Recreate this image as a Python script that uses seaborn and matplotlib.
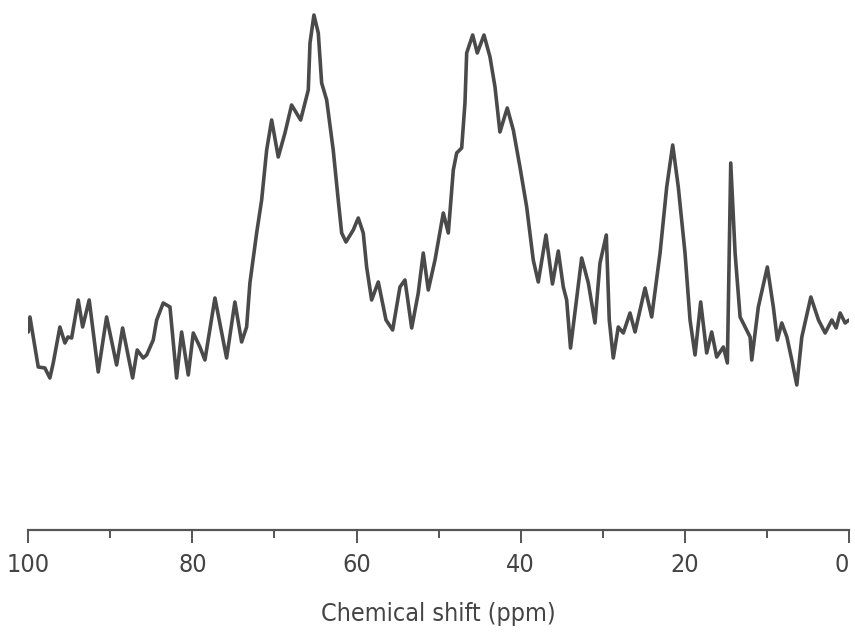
import numpy as np
import pandas as pd
import seaborn as sns
import matplotlib.pyplot as plt
from matplotlib.ticker import MultipleLocator
from matplotlib import font_manager

# Spectrum (ppm, intensity in arbitrary units)
ppm = [100.0, 99.79, 99.18, 98.78, 97.97, 97.36, 96.95, 96.14, 95.53, 95.16,
       94.71, 93.91, 93.37, 92.57, 91.47, 90.45, 89.23, 88.50, 87.28, 86.72,
       85.99, 85.57, 84.77, 84.35, 83.55, 82.73, 81.92, 81.31, 80.50, 79.89,
       79.08, 78.47, 77.25, 75.83, 74.82, 74.00, 73.39, 72.99, 72.17, 71.56,
       70.95, 70.34, 69.54, 68.72, 67.91, 66.81, 65.88, 65.67, 65.19, 64.66,
       64.25, 63.64, 62.84, 62.23, 61.81, 61.29, 60.40, 59.79, 59.18, 58.77,
       58.16, 57.35, 56.41, 55.60, 54.71, 54.10, 53.28, 52.48, 51.87, 51.26,
       50.44, 49.43, 48.82, 48.21, 47.80, 47.19, 46.79, 46.58, 45.85, 45.29,
       44.47, 43.74, 43.13, 42.53, 41.64, 40.90, 40.09, 39.27, 38.47, 37.86,
       36.92, 36.13, 35.42, 34.81, 34.40, 33.93, 32.57, 31.76, 30.95, 30.34,
       29.57, 29.21, 28.72, 28.11, 27.50, 26.68, 26.07, 24.85, 24.04, 23.02,
       22.21, 21.48, 20.80, 19.98, 19.37, 18.76, 18.07, 17.34, 16.73, 16.12,
       15.31, 14.82, 14.41, 13.88, 13.27, 12.05, 11.85, 11.05, 9.95, 9.22,
       8.73, 8.19, 7.57, 6.97, 6.36, 5.75, 4.65, 3.72, 2.91, 2.09,
       1.57, 1.08, 0.47, 0.0]
intensity = [198, 213, 183, 163, 162, 152, 167, 203, 187, 193,
             192, 230, 203, 230, 158, 213, 165, 202, 152, 180,
             172, 175, 190, 210, 227, 223, 152, 198, 155, 197,
             183, 170, 232, 172, 228, 188, 203, 247, 297, 330,
             380, 410, 373, 397, 425, 410, 440, 487, 515, 497,
             447, 430, 380, 330, 297, 288, 300, 312, 297, 263,
             230, 248, 210, 200, 243, 250, 202, 237, 277, 240,
             270, 317, 297, 360, 377, 382, 427, 477, 495, 477,
             495, 473, 443, 398, 422, 400, 363, 323, 270, 248,
             295, 246, 279, 243, 230, 182, 272, 247, 207, 267,
             295, 210, 172, 203, 197, 217, 198, 242, 213, 277,
             343, 385, 343, 277, 210, 175, 228, 177, 198, 173,
             183, 167, 367, 277, 213, 193, 170, 223, 263, 223,
             190, 207, 193, 170, 145, 193, 233, 210, 197, 210,
             202, 217, 207, 210]

major_ticks = [100, 80, 60, 40, 20, 0]

df = pd.DataFrame({"ppm": ppm, "intensity": intensity})

sns.set_style("white")
plt.rcParams["font.family"] = ["DejaVu Sans"]
plt.rcParams["font.stretch"] = "condensed"

fig = plt.figure(figsize=(8.55, 6.37), dpi=100)
ax = fig.add_axes([0.033, 0.168, 0.960, 0.832])

sns.lineplot(data=df, x="ppm", y="intensity", ax=ax, color="#4a4a4a",
             linewidth=2.6, estimator=None)

ax.set_xlim(100, 0)
ax.set_ylim(0, 530)
ax.set_xticks(major_ticks)
ax.set_xticklabels([str(t) for t in major_ticks], fontsize=18, color="#444444",
                   fontstretch="condensed")
ax.xaxis.set_minor_locator(MultipleLocator(10))
ax.tick_params(axis="x", which="major", direction="out", length=9.5, width=1.4,
               color="#555555", pad=7, bottom=True)
ax.tick_params(axis="x", which="minor", direction="out", length=6, width=1.4,
               color="#555555", bottom=True)
ax.set_yticks([])
ax.set_ylabel("")
ax.set_xlabel("Chemical shift (ppm)", fontsize=18, color="#444444", labelpad=18,
              fontstretch="condensed")
# keep the last label inside the figure
ax.get_xticklabels()[-1].set_horizontalalignment("right")
ax.get_xticklabels()[-1].set_x(0)

sns.despine(ax=ax, left=True)
ax.spines["bottom"].set_color("#555555")
ax.spines["bottom"].set_linewidth(1.6)

fig.savefig("out.png", dpi=100)
